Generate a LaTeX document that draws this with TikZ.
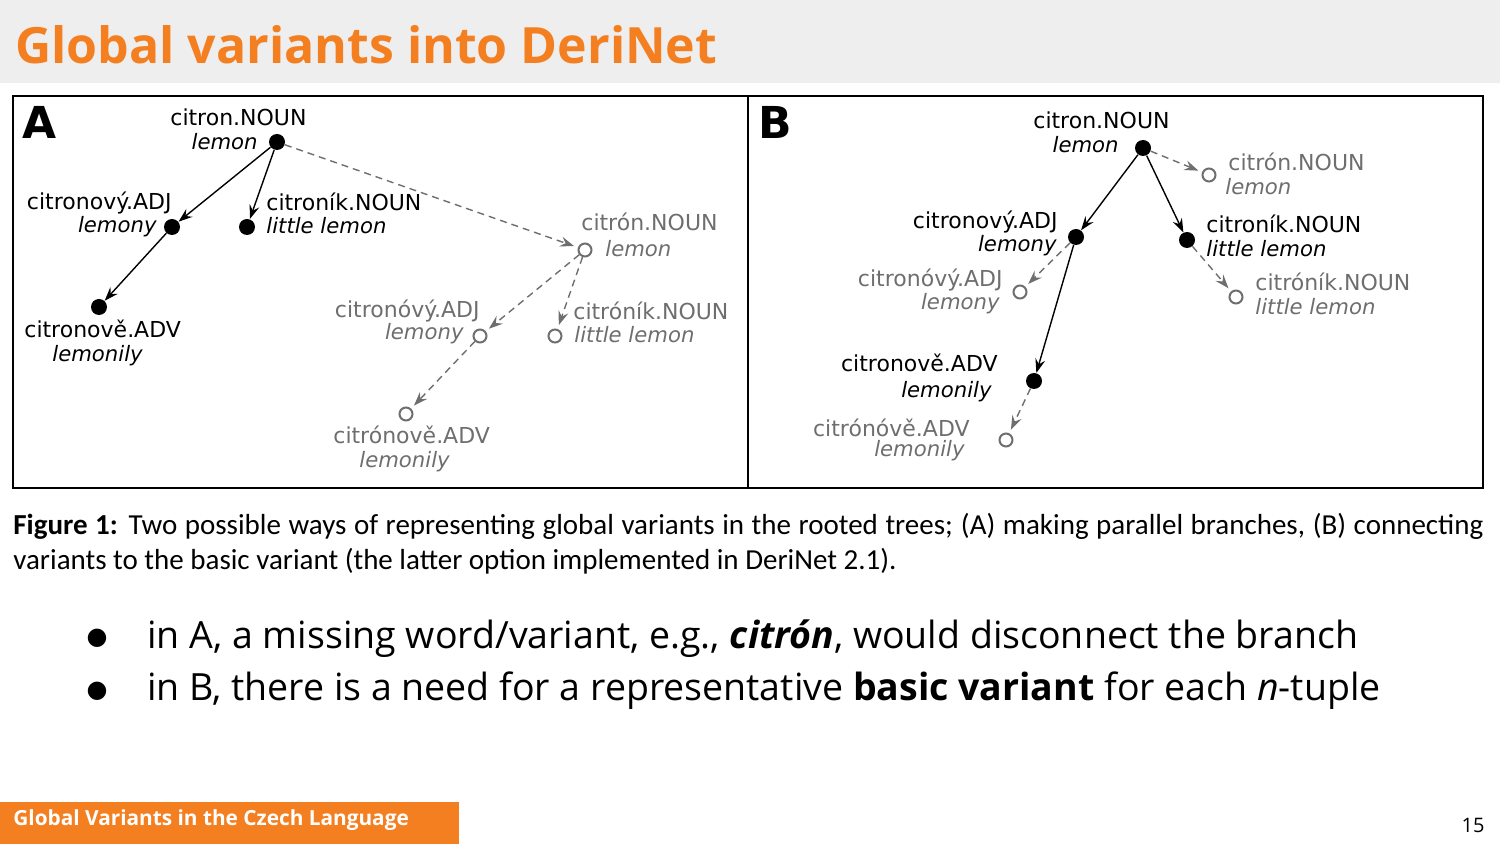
\documentclass[tikz,border=0pt]{standalone}
\usepackage{fontspec}
\setmainfont{Open Sans}
\newfontfamily\figfont{DejaVu Sans}[ItalicFont={DejaVu Sans Oblique}]
\newfontfamily\capfont{Carlito}
\newfontfamily\dotfont{DejaVu Sans}
\usetikzlibrary{arrows.meta,positioning}
\definecolor{slideorange}{HTML}{F47F20}
\definecolor{bandgray}{HTML}{EEEEEE}
\definecolor{varcol}{HTML}{6E6E6E}

\tikzset{
  Dot/.style={circle,fill=black,inner sep=0pt,minimum size=8pt},
  Ring/.style={circle,draw=varcol,line width=1pt,fill=white,inner sep=0pt,minimum size=6.5pt},
  Word/.style={font=\figfont\fontsize{11pt}{13pt}\selectfont,inner sep=0pt},
  Gloss/.style={Word,font=\figfont\fontsize{10.6pt}{13pt}\selectfont\itshape},
  VarWord/.style={Word,text=varcol},
  VarGloss/.style={Gloss,text=varcol},
  EdgeStyle/.style={->,>={Stealth[length=7pt,width=5pt,inset=2.5pt]},line width=0.7pt},
  VarEdge/.style={EdgeStyle,draw=varcol,dash pattern=on 3.5pt off 2.5pt,shorten >=2pt}
}

\begin{document}
\begin{tikzpicture}[x=0.5pt,y=-0.5pt]
  \useasboundingbox (0,0) rectangle (1500,844);
  \fill[bandgray] (0,0) rectangle (1500,83);
  \node[anchor=base west,inner sep=0pt,text=slideorange,font=\fontsize{25pt}{30pt}\selectfont\bfseries] (title) at (15,64) {Global variants into DeriNet};

  \draw[line width=1pt] (13,96) rectangle (1483,488);
  \draw[line width=1pt] (748,96) -- (748,488);
  \node[anchor=north west,inner sep=0pt,font=\figfont\fontsize{22pt}{24pt}\selectfont\bfseries] (labA) at (22,106) {A};
  \node[anchor=north west,inner sep=0pt,font=\figfont\fontsize{22pt}{24pt}\selectfont\bfseries] (labB) at (758,106) {B};

  % A
  \node[Dot] (a1) at (277,142) {};
  \node[Dot] (a2) at (172,227) {};
  \node[Dot] (a3) at (247,227) {};
  \node[Dot] (a4) at (99,307) {};
  \node[Ring] (a5) at (585,250) {};
  \node[Ring] (a6) at (480,336) {};
  \node[Ring] (a7) at (555,336) {};
  \node[Ring] (a8) at (406,414) {};

  \node[Word,anchor=base west] at (170,126) {citron.NOUN};
  \node[Gloss,anchor=base east] at (258,150) {lemon};
  \node[Word,anchor=base east] at (172,210) {citronový.ADJ};
  \node[Gloss,anchor=base east] at (157,233) {lemony};
  \node[Word,anchor=base west] at (266,211) {citroník.NOUN};
  \node[Gloss,anchor=base west] at (266,234) {little lemon};
  \node[Word,anchor=base west] at (24,338) {citronově.ADV};
  \node[Gloss,anchor=base west] at (52,362) {lemonily};
  \node[VarWord,anchor=base west] at (581,231) {citrón.NOUN};
  \node[VarGloss,anchor=base west] at (605,257) {lemon};
  \node[VarWord,anchor=base east] at (480,318) {citronóvý.ADJ};
  \node[VarGloss,anchor=base east] at (464,340) {lemony};
  \node[VarWord,anchor=base west] at (573,320) {citróník.NOUN};
  \node[VarGloss,anchor=base west] at (574,343) {little lemon};
  \node[VarWord,anchor=base west] at (333,444) {citrónově.ADV};
  \node[VarGloss,anchor=base west] at (359,468) {lemonily};

  \draw[EdgeStyle] (a1) -- (a2);
  \draw[EdgeStyle] (a1) -- (a3);
  \draw[EdgeStyle] (a2) -- (a4);
  \draw[VarEdge] (a1) -- (a5);
  \draw[VarEdge] (a5) -- (a6);
  \draw[VarEdge] (a5) -- (a7);
  \draw[VarEdge] (a6) -- (a8);

  % B
  \node[Dot] (b1) at (1143,148) {};
  \node[Dot] (b2) at (1076,237) {};
  \node[Dot] (b3) at (1187,240) {};
  \node[Dot] (b4) at (1034,381) {};
  \node[Ring] (b5) at (1209,175) {};
  \node[Ring] (b6) at (1020,292) {};
  \node[Ring] (b7) at (1236,297) {};
  \node[Ring] (b8) at (1006,440) {};

  \node[Word,anchor=base west] at (1033,129) {citron.NOUN};
  \node[Gloss,anchor=base east] at (1119,153) {lemon};
  \node[Word,anchor=base east] at (1058,229) {citronový.ADJ};
  \node[Gloss,anchor=base east] at (1057,252) {lemony};
  \node[Word,anchor=base west] at (1206,233) {citroník.NOUN};
  \node[Gloss,anchor=base west] at (1206,257) {little lemon};
  \node[Word,anchor=base east] at (998,372) {citronově.ADV};
  \node[Gloss,anchor=base east] at (992,398) {lemonily};
  \node[VarWord,anchor=base west] at (1228,171) {citrón.NOUN};
  \node[VarGloss,anchor=base west] at (1225,195) {lemon};
  \node[VarWord,anchor=base east] at (1003,287) {citronóvý.ADJ};
  \node[VarGloss,anchor=base east] at (1000,310) {lemony};
  \node[VarWord,anchor=base west] at (1255,291) {citróník.NOUN};
  \node[VarGloss,anchor=base west] at (1255,315) {little lemon};
  \node[VarWord,anchor=base east] at (970,437) {citrónóvě.ADV};
  \node[VarGloss,anchor=base east] at (965,457) {lemonily};

  \draw[EdgeStyle] (b1) -- (b2);
  \draw[EdgeStyle] (b1) -- (b3);
  \draw[EdgeStyle] (b2) -- (b4);
  \draw[VarEdge] (b1) -- (b5);
  \draw[VarEdge] (b2) -- (b6);
  \draw[VarEdge] (b3) -- (b7);
  \draw[VarEdge] (b4) -- (b8);

  \node[anchor=base west,inner sep=0pt,font=\capfont\fontsize{14.5pt}{17pt}\selectfont] (cap1) at (13,535)
    {\hbox to 735pt{\textbf{Figure 1:} Two possible ways of representing global variants in the rooted trees; (A) making parallel branches, (B) connecting}};
  \node[anchor=base west,inner sep=0pt,font=\capfont\fontsize{14.5pt}{17pt}\selectfont] (cap2) at (13,569)
    {variants to the basic variant (the latter option implemented in DeriNet 2.1).};

  \node[anchor=base,inner sep=0pt,font=\dotfont\fontsize{12pt}{14pt}\selectfont] (dot1) at (97,645) {●};
  \node[anchor=base west,inner sep=0pt,font=\fontsize{18.75pt}{22pt}\selectfont] (item1) at (147,648)
    {in A, a missing word/variant, e.g., \textbf{\textit{citrón}}, would disconnect the branch};
  \node[anchor=base,inner sep=0pt,font=\dotfont\fontsize{12pt}{14pt}\selectfont] (dot2) at (97,697) {●};
  \node[anchor=base west,inner sep=0pt,font=\fontsize{18.75pt}{22pt}\selectfont] (item2) at (147,700)
    {in B, there is a need for a representative \textbf{basic variant} for each \textit{n}-tuple};

  \fill[slideorange] (0,802) rectangle (459,844);
  \node[anchor=base west,inner sep=0pt,text=white,font=\fontsize{10.4pt}{12pt}\selectfont\bfseries] (foot) at (13,825) {Global Variants in the Czech Language};
  \node[anchor=base east,inner sep=0pt,font=\fontsize{10pt}{12pt}\selectfont] (page) at (1485,832) {15};
\end{tikzpicture}
\end{document}
